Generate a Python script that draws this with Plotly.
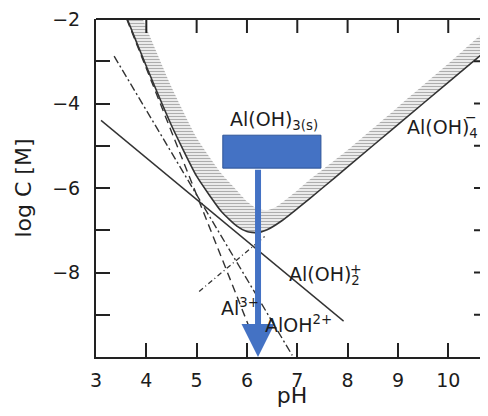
import plotly.graph_objects as go

# ---- data ----
ph_tick_vals = [3, 4, 5, 6, 7, 8, 9, 10]
logc_tick_vals = [-8, -6, -4, -2]
logc_all_ticks = [-9, -8, -7, -6, -5, -4, -3]

# total solubility (lower edge of hatched band)
ph_lower = [3.45, 3.62, 4.0, 4.5, 5.0, 5.5, 5.8, 6.0, 6.2, 6.4, 6.7, 7.0, 7.5, 8.0, 9.0, 10.0, 11.0]
logc_lower = [-1.50, -2.00, -3.12, -4.52, -5.72, -6.57, -6.90, -7.03, -7.06, -6.99, -6.77, -6.49, -6.00, -5.50, -4.50, -3.50, -2.50]

# upper edge of hatched band
ph_upper = [3.78, 3.93, 4.0, 4.5, 5.0, 5.5, 5.8, 6.0, 6.2, 6.4, 6.6, 6.8, 7.0, 7.25, 7.5, 8.0, 9.0, 10.0, 11.0]
logc_upper = [-1.56, -2.00, -2.21, -3.61, -4.81, -5.67, -6.06, -6.32, -6.49, -6.53, -6.43, -6.25, -6.06, -5.80, -5.57, -5.10, -4.08, -3.06, -2.06]

# species lines
al3_ph, al3_logc = [3.61, 6.28], [-2.00, -10.00]
aloh_ph, aloh_logc = [3.36, 6.90], [-2.88, -9.96]
aloh2_ph, aloh2_logc = [3.10, 7.92], [-4.40, -9.15]
aloh4_ph, aloh4_logc = [5.05, 6.35], [-8.45, -7.15]

# solid-phase box and arrow (pH, log C)
box_ph = [5.52, 7.47]
box_logc = [-5.53, -4.75]
arrow_ph = 6.22
arrow_logc = [-5.53, -10.0]

FONT = "DejaVu Sans"
INK = "#1c1c1c"
LINE = "#333333"
BLUE = "#4472C4"
AX = "#222222"

W, H = 480, 400
ML, MR, MT, MB = 88, 0, 11, 51
TICKLEN = 14
plot_w = W - ML - MR
plot_h = H - MT - MB

fig = go.Figure()

band_x = ph_upper + ph_lower[::-1]
band_y = logc_upper + logc_lower[::-1]
fig.add_trace(go.Scatter(
    x=band_x, y=band_y, mode="lines",
    line=dict(width=0, shape="spline", smoothing=0.5),
    fill="toself", fillcolor="white",
    fillpattern=dict(shape="-", fgcolor="#5c5c5c", bgcolor="white", size=3, solidity=0.5),
    hoverinfo="skip", showlegend=False))

fig.add_trace(go.Scatter(x=ph_lower, y=logc_lower, mode="lines",
                         line=dict(color=LINE, width=1.6, shape="spline", smoothing=0.5),
                         hoverinfo="skip", showlegend=False))

fig.add_trace(go.Scatter(x=al3_ph, y=al3_logc, mode="lines",
                         line=dict(color=LINE, width=1.4, dash="8px,5px"), showlegend=False))
fig.add_trace(go.Scatter(x=aloh_ph, y=aloh_logc, mode="lines",
                         line=dict(color=LINE, width=1.4, dash="8px,3px,2px,3px"), showlegend=False))
fig.add_trace(go.Scatter(x=aloh2_ph, y=aloh2_logc, mode="lines",
                         line=dict(color=LINE, width=1.4), showlegend=False))
fig.add_trace(go.Scatter(x=aloh4_ph, y=aloh4_logc, mode="lines",
                         line=dict(color=LINE, width=1.3, dash="5px,3px,1px,3px"), showlegend=False))

fig.add_shape(type="rect", xref="x", yref="y",
              x0=box_ph[0], x1=box_ph[1], y0=box_logc[0], y1=box_logc[1],
              fillcolor=BLUE, line=dict(color="#2F5597", width=1), layer="above")

fig.add_annotation(x=arrow_ph, y=arrow_logc[1], ax=arrow_ph, ay=arrow_logc[0],
                   xref="x", yref="y", axref="x", ayref="y", text="",
                   showarrow=True, arrowhead=2, arrowsize=1.1, arrowwidth=6,
                   arrowcolor=BLUE, standoff=0)

# frame: top line, top ticks, right ticks
fig.add_shape(type="line", xref="paper", yref="paper", x0=0, x1=1, y0=1, y1=1,
              line=dict(color=AX, width=2), layer="above")
for v in ph_tick_vals[1:]:
    fig.add_shape(type="line", xref="x", yref="paper", x0=v, x1=v,
                  y0=1, y1=1 - TICKLEN / plot_h, line=dict(color=AX, width=2), layer="above")
for v in logc_all_ticks:
    fig.add_shape(type="line", xref="paper", yref="y", x0=1, x1=1 - TICKLEN / plot_w,
                  y0=v, y1=v, line=dict(color=AX, width=2), layer="above")

# (pH, logC, text, size, anchor)
labels = [
    (5.62, -4.40, "Al(OH)<sub>3(s)</sub>", 19, "left"),
    (9.14, -4.58, "Al(OH)<sub>4</sub>", 19, "left"),
    (10.46, -4.33, "−", 14, "center"),
    (6.80, -8.06, "Al(OH)<sub>2</sub>", 19, "left"),
    (8.17, -7.92, "+", 14, "center"),
    (5.44, -8.82, "Al<sup>3+</sup>", 19, "left"),
    (6.32, -9.22, "AlOH<sup>2+</sup>", 19, "left"),
]
for x, y, t, s, a in labels:
    fig.add_annotation(x=x, y=y, xref="x", yref="y", text=t, showarrow=False,
                       xanchor=a, yanchor="middle",
                       font=dict(family=FONT, size=s, color=INK))

axis_common = dict(showgrid=False, zeroline=False, ticks="inside", ticklen=TICKLEN,
                   tickwidth=2, tickcolor=AX, linecolor=AX, linewidth=2,
                   tickfont=dict(family=FONT, size=19, color=INK))
minor_ticks = dict(tickmode="linear", tick0=-3, dtick=1, ticks="inside", ticklen=TICKLEN,
                   tickwidth=2, tickcolor=AX)

fig.update_layout(
    width=W, height=H,
    margin=dict(l=ML, r=MR, t=MT, b=MB),
    paper_bgcolor="white", plot_bgcolor="white",
    showlegend=False,
    xaxis=dict(range=[3, 10.79], tickvals=ph_tick_vals, showline=True, mirror=False,
               ticklabelstandoff=5, ticklabeloverflow="allow",
               title=dict(text="pH", font=dict(family=FONT, size=22, color=INK), standoff=2),
               **axis_common),
    yaxis=dict(range=[-10, -2], tickvals=logc_tick_vals, showline=True, mirror=False,
               ticklabelstandoff=10, ticklabeloverflow="allow",
               minor=minor_ticks,
               title=dict(text="log C [M]", font=dict(family=FONT, size=22, color=INK), standoff=14),
               **axis_common),
)

fig.write_html("out.html")
